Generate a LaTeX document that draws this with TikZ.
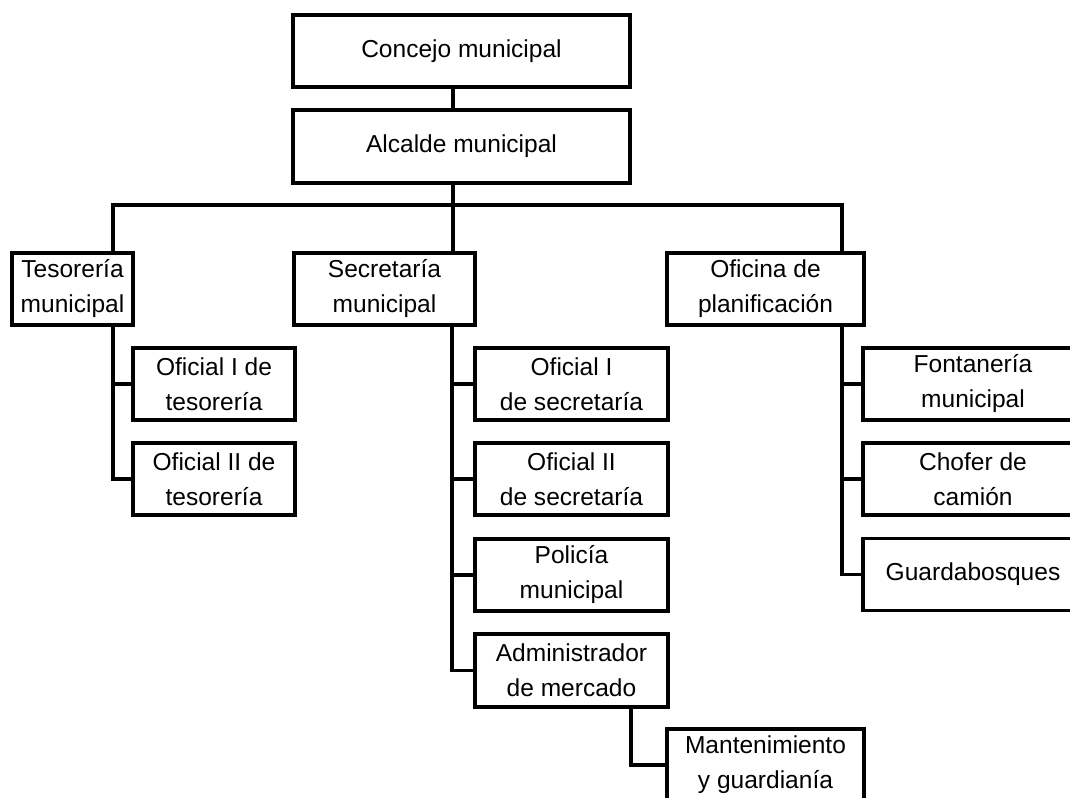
\documentclass[tikz,border=0pt]{standalone}
\usepackage{fontspec}
\setmainfont{Liberation Sans}
\begin{document}
\begin{tikzpicture}[x=0.75pt,y=-0.75pt,
  wire/.style={draw, line width=2.4pt, line join=miter},
  box/.style={draw, line width=2.4pt, inner sep=0pt, align=center,
    font=\fontsize{18.4}{26.25}\selectfont},
  sz/.style 2 args={minimum width=#1*0.75pt, minimum height=#2*0.75pt}]
\fill[white] (0,0) rectangle (1070,797);
\useasboundingbox (0,0) rectangle (1070,797);
% top
\node[box, sz={337}{72}] (concejo) at (461.5,51) {Concejo municipal};
\node[box, sz={337}{73}] (alcalde) at (461.5,146.5) {Alcalde municipal};
% second level
\node[box, sz={121}{72}] (tesoreria) at (72.5,289) {Tesorería\\municipal};
\node[box, sz={181}{72}] (secretaria) at (384.5,289) {Secretaría\\municipal};
\node[box, sz={197}{72}] (oficina) at (765.5,289) {Oficina de\\planificación};
% tesoreria children
\node[box, sz={162}{72}] (oft1) at (214,384) {Oficial I de\\tesorería};
\node[box, sz={162}{72}] (oft2) at (214,479) {Oficial II de\\tesorería};
% secretaria children
\node[box, sz={193}{72}] (ofs1) at (571.5,384) {Oficial I\\de secretaría};
\node[box, sz={193}{72}] (ofs2) at (571.5,479) {Oficial II\\de secretaría};
\node[box, sz={193}{72}] (policia) at (571.5,575) {Policía\\municipal};
\node[box, sz={193}{73}] (admin) at (571.5,670.5) {Administrador\\de mercado};
\node[box, sz={197}{72}] (mant) at (765.5,765) {Mantenimiento\\y guardianía};
% oficina children
\node[box, sz={220}{72}] (fonta) at (973,384) {Fontanería\\municipal};
\node[box, sz={220}{72}] (chofer) at (973,479) {Chofer de\\camión};
\node[box, sz={220}{72}] (guarda) at (973,574.5) {Guardabosques};
% junction coordinates
\coordinate (trunk) at (453,205);
\coordinate (tesx) at (113,205);
\coordinate (ofx) at (842,205);
\coordinate (secx) at (452,205);
\coordinate (admx) at (631,700);
% connectors
\draw[wire] (concejo.south -| trunk) -- (alcalde.north -| trunk);
\draw[wire] (alcalde.south -| trunk) -- (trunk);
\draw[wire] (tesoreria.north -| tesx) -- (tesx) -- (ofx) -- (oficina.north -| ofx);
\draw[wire] (trunk) -- (secretaria.north -| trunk);
% tesoreria
\draw[wire] (tesoreria.south -| tesx) |- (oft2.west);
\draw[wire] (oft1.west -| tesx) -- (oft1.west);
% secretaria
\draw[wire] (secretaria.south -| secx) |- (admin.west);
\draw[wire] (ofs1.west -| secx) -- (ofs1.west);
\draw[wire] (ofs2.west -| secx) -- (ofs2.west);
\draw[wire] (policia.west -| secx) -- (policia.west);
% admin
\draw[wire] (admin.south -| admx) |- (mant.west);
% oficina
\draw[wire] (oficina.south -| ofx) |- (guarda.west);
\draw[wire] (fonta.west -| ofx) -- (fonta.west);
\draw[wire] (chofer.west -| ofx) -- (chofer.west);
\end{tikzpicture}
\end{document}
